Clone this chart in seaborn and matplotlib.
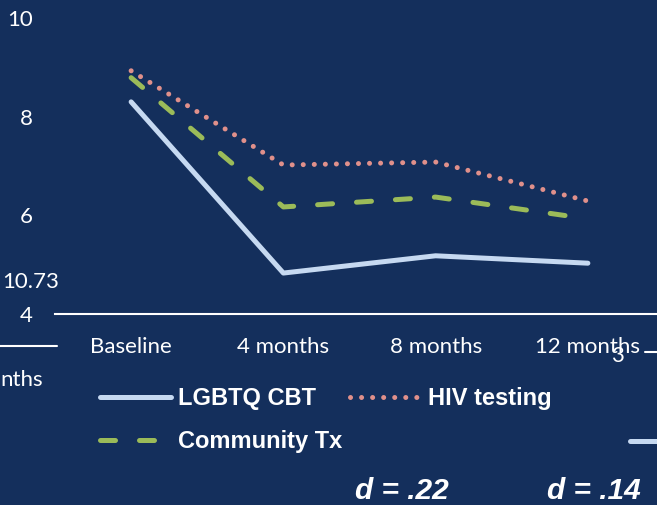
import pandas as pd
import matplotlib
matplotlib.use("Agg")
import matplotlib.pyplot as plt
from matplotlib.lines import Line2D
import seaborn as sns

# data
months = ["Baseline", "4 months", "8 months", "12 months"]
lgbtq_cbt = [8.30, 4.83, 5.18, 5.03]
hiv_testing = [8.93, 7.02, 7.08, 6.29]
community_tx = [8.79, 6.17, 6.37, 5.93]
y_ticks = [4, 6, 8, 10]
effect_labels = ["d = .22", "d = .14"]

BG = "#142f5c"
COLORS = {
    "LGBTQ CBT": "#c6d9f1",
    "HIV testing": "#e0908b",
    "Community Tx": "#9bbb59",
}
LW = 3.6

sns.set_theme(style="white")
plt.rcParams["font.family"] = ["Lato", "DejaVu Sans"]

fig = plt.figure(figsize=(6.57, 5.05), dpi=100, facecolor=BG)
ax = fig.add_axes([55 / 657, 1 - 314 / 505, 609 / 657, 296 / 505])
ax.set_facecolor(BG)

series = [
    ("LGBTQ CBT", lgbtq_cbt, "-"),
    ("Community Tx", community_tx, (0, (3, 4.8))),
    ("HIV testing", hiv_testing, (0, (0.01, 2.2))),
]
for name, vals, ls in series:
    df = pd.DataFrame({"month": months, "score": vals})
    sns.lineplot(data=df, x="month", y="score", sort=False, ax=ax,
                 color=COLORS[name], linewidth=LW, linestyle=ls)
for line in ax.lines:
    line.set_dash_capstyle("round")
    line.set_solid_capstyle("round")
    line.set_solid_joinstyle("round")

ax.set_xlim(-0.5, 3.5)
ax.set_ylim(4, 10)
ax.set_yticks(y_ticks)
ax.set_xlabel("")
ax.set_ylabel("")
for s in ["top", "right", "left"]:
    ax.spines[s].set_visible(False)
ax.spines["bottom"].set_color("white")
ax.spines["bottom"].set_linewidth(1.5)
ax.tick_params(axis="both", length=0, colors="white", labelsize=16)
ax.tick_params(axis="y", pad=16)
ax.tick_params(axis="x", pad=16.5)

# legend
handles = [
    Line2D([], [], color=COLORS["LGBTQ CBT"], lw=LW, solid_capstyle="round"),
    Line2D([], [], color=COLORS["Community Tx"], lw=LW, linestyle=(0, (3, 4.8)),
           dash_capstyle="round"),
    Line2D([], [], color=COLORS["HIV testing"], lw=LW, linestyle=(0, (0.01, 2.2)),
           dash_capstyle="round"),
]
leg = fig.legend(handles, ["LGBTQ CBT", "Community Tx", "HIV testing"],
                 ncol=2, loc="upper left", bbox_to_anchor=(100 / 657, 1 - 387 / 505),
                 frameon=False, borderpad=0, borderaxespad=0,
                 handlelength=3.0, handletextpad=0.3, columnspacing=0.35,
                 labelspacing=0.85,
                 prop={"family": "Liberation Sans", "weight": "bold", "size": 17})
for t in leg.get_texts():
    t.set_color("white")

# effect sizes
for x, lab in zip([402, 594], effect_labels):
    fig.text(x / 657, 1 - 491 / 505, lab, color="white", ha="center", va="center",
             family="Liberation Sans", weight="bold", style="italic", fontsize=21.5)

# fragments of neighbouring slide elements
fig.text(31 / 657, 1 - 282 / 505, "10.73", color="white", ha="center", va="center",
         fontsize=16)
fig.text(0, 1 - 380 / 505, "nths", color="white", ha="left", va="center", fontsize=16)
fig.text(617 / 657, 1 - 356 / 505, "3", color="white", ha="center", va="center",
         fontsize=16)
fig.add_artist(Line2D([0, 57 / 657], [1 - 346 / 505] * 2, color="white", lw=1.5))
fig.add_artist(Line2D([645 / 657, 1], [1 - 352 / 505] * 2, color="white", lw=1.5))
fig.add_artist(Line2D([630 / 657, 1.01], [1 - 441 / 505] * 2,
                      color=COLORS["LGBTQ CBT"], lw=LW, solid_capstyle="round"))

fig.savefig("out.png", dpi=100, facecolor=BG)
